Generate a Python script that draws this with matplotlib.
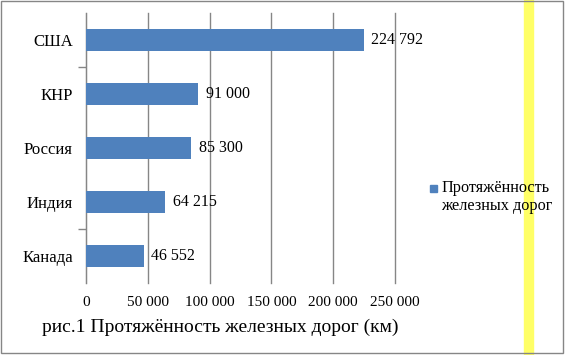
import matplotlib
matplotlib.use("Agg")
import matplotlib.pyplot as plt
from matplotlib.patches import Rectangle

countries = ["США", "КНР", "Россия", "Индия", "Канада"]
lengths = [224792, 91000, 85300, 64215, 46552]
xticks = [0, 50000, 100000, 150000, 200000, 250000]
series_name = "Протяжённость\nжелезных дорог"
title = "рис.1 Протяжённость железных дорог (км)"

def fmt(v):
    return f"{v:,}".replace(",", " ")

plt.rcParams['font.family'] = ['Liberation Serif', 'DejaVu Serif']

W, H = 565, 355
fig = plt.figure(figsize=(W/100, H/100), dpi=100)
ax = fig.add_axes([86/W, 1-283/H, (395-86)/W, (283-13)/H])

bar_color = "#4F81BD"
ypos = list(range(len(countries)))[::-1]
ax.barh(ypos, lengths, height=0.4, color=bar_color, zorder=3)
ax.set_ylim(-0.5, len(countries)-0.5)
ax.set_xlim(0, 250000)
ax.set_xticks(xticks)
ax.set_xticklabels([fmt(v) for v in xticks], fontsize=11)
ax.tick_params(axis='x', length=0, pad=9)
ax.set_yticks(ypos)
ax.set_yticklabels(countries, fontsize=12)
ax.tick_params(axis='y', length=0, pad=9.5)
ax.set_yticks([3.5, 0.5], minor=True)
ax.tick_params(axis='y', which='minor', length=6, color='#868686', width=1)
ax.grid(axis='x', color='#868686', linewidth=1, zorder=0)
for gl in ax.get_xgridlines():
    gl.set_clip_on(False)
for s in ['top', 'right', 'bottom']:
    ax.spines[s].set_visible(False)
ax.spines['left'].set_color('#868686')

for y, v in zip(ypos, lengths):
    ax.text(v + 6000, y, fmt(v), va='center', ha='left', fontsize=11.5, zorder=4)

# legend
fig.patches.append(Rectangle((430/W, 1-192/H), 7/W, 7/H, transform=fig.transFigure,
                             color=bar_color))
fig.text(441/W, 1-180/H, series_name, va='top', ha='left', fontsize=11.7, linespacing=1.2)

fig.text(220/W, 1-327/H, title, ha='center', va='center', fontsize=14)

# yellow band and border
fig.patches.append(Rectangle((524/W, 0), 9/W, 1, transform=fig.transFigure,
                             color='#FFFF66', zorder=0))
fig.patches.append(Rectangle((0.5/W, 2.5/H), 562.5/W, 352/H, transform=fig.transFigure,
                             fill=False, edgecolor='#868686', linewidth=1))

fig.savefig("out.png", dpi=100)
